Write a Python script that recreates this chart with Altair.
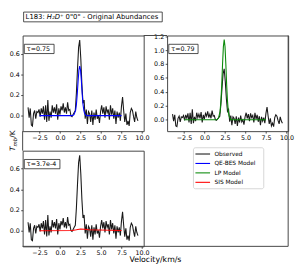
import altair as alt
import pandas as pd

# ---------------- data ----------------
vel_start = -3.9
vel_step = 0.134
obs_T = [0.08, -0.02, 0.07, -0.09, -0.10, 0.02, 0.05, -0.03, 0.04, 0.03,
         0.06, -0.01, 0.07, 0.02, 0.09, -0.04, 0.10, -0.06, 0.15, -0.05,
         0.04, -0.02, 0.10, 0.03, 0.08, 0.02, 0.11, -0.04, 0.07, 0.01,
         0.09, 0.05, 0.12, 0.03, 0.08, 0.02, 0.13, 0.05, 0.06, 0.00,
         -0.01, 0.01, 0.03, 0.05, 0.22, 0.45, 0.66, 0.73, 0.55, 0.30,
         0.12, 0.15, -0.03, 0.06, -0.08, 0.04, 0.02, -0.06, 0.05, -0.09,
         0.03, -0.04, 0.06, -0.03, 0.00, -0.07, 0.04, 0.10, 0.02, 0.08,
         -0.02, 0.09, 0.03, 0.06, -0.04, 0.10, 0.01, 0.07, -0.03, 0.05,
         -0.08, 0.04, -0.02, 0.03, -0.05, 0.09, 0.18, 0.05, -0.06, 0.02,
         -0.09, -0.05, -0.10, 0.03, 0.07, 0.05, -0.01, -0.06, 0.04, -0.02,
         -0.05]
obs_v = [round(vel_start + i * vel_step, 3) for i in range(len(obs_T))]

model_v = [-2.5, 1.5, 1.7, 1.9, 2.0, 2.1, 2.2, 2.3, 2.4, 2.5, 2.6, 2.7, 2.8, 2.9, 3.0, 3.2, 7.5]
qebes_T = [0.0, 0.0, 0.01, 0.05, 0.11, 0.21, 0.33, 0.44, 0.48, 0.44, 0.34, 0.21, 0.11, 0.05, 0.02, 0.0, 0.0]
lp_T = [0.0, 0.0, 0.02, 0.12, 0.27, 0.50, 0.80, 1.05, 1.15, 1.05, 0.80, 0.50, 0.27, 0.12, 0.05, 0.0, 0.0]
sis_v = [-2.5, 1.5, 2.0, 2.5, 3.0, 3.5, 7.5]
sis_T = [-0.003, 0.0, 0.006, 0.014, 0.012, 0.006, 0.0]

series_names = ["Observed", "QE-BES Model", "LP Model", "SIS Model"]
series_colors = ["#1a1a1a", "#0000ff", "#0a8a0a", "#ff0000"]
tau_labels = ["τ=0.75", "τ=0.79", "τ=3.7e-4"]

x_ticks = [-2.5, 0.0, 2.5, 5.0, 7.5, 10.0]
y_ticks_small = [0.0, 0.2, 0.4, 0.6]
y_ticks_big = [0.0, 0.2, 0.4, 0.6, 0.8, 1.0, 1.2]

title_parts = ["L183:", "H₂D⁺", "0\"0\" - Original Abundances"]
x_title = "Velocity/km/s"
y_title_parts = ["T", "mb", "/K"]

# ---------------- tables ----------------
obs_df = pd.DataFrame({"v": obs_v, "T": obs_T, "series": series_names[0]})
qebes_df = pd.DataFrame({"v": model_v, "T": qebes_T, "series": series_names[1]})
lp_df = pd.DataFrame({"v": model_v, "T": lp_T, "series": series_names[2]})
sis_df = pd.DataFrame({"v": sis_v, "T": sis_T, "series": series_names[3]})
legend_df = pd.DataFrame({"series": series_names})
one = pd.DataFrame({"k": [0]})

FONT = "DejaVu Sans"
FRAME = "#444444"
W, H = 124, 98
X_DOM = [-4.56, 10.2]

color_scale = alt.Scale(domain=series_names, range=series_colors)


def panel(model_df, y_dom, y_ticks, tau, box_w):
    xs = alt.X("v:Q", scale=alt.Scale(domain=X_DOM, nice=False, zero=False),
               axis=alt.Axis(values=x_ticks, format=".1f", title=""))
    ys = alt.Y("T:Q", scale=alt.Scale(domain=y_dom, nice=False, zero=False),
               axis=alt.Axis(values=y_ticks, format=".1f", title=""))
    col = alt.Color("series:N", scale=color_scale)
    obs = alt.Chart(obs_df).mark_line(strokeWidth=1.1).encode(x=xs, y=ys, color=col)
    mod = alt.Chart(model_df).mark_line(strokeWidth=1.1).encode(x=xs, y=ys, color=col)
    tdf = pd.DataFrame({"label": [tau]})
    box = alt.Chart(tdf).mark_rect(fill="white", stroke="#222222", strokeWidth=0.8).encode(
        x=alt.value(1.7), x2=alt.value(1.7 + box_w), y=alt.value(9), y2=alt.value(18.5))
    txt = alt.Chart(tdf).mark_text(align="left", baseline="middle", font=FONT,
                                   fontSize=6.5, color="black").encode(
        x=alt.value(4.3), y=alt.value(13.9), text="label:N")
    return [obs, mod, box, txt]


# top-left
tl_layers = panel(qebes_df, [-0.15, 0.775], y_ticks_small, tau_labels[0], 30.5)
tbox = alt.Chart(one).mark_rect(fill="white", stroke="#222222", strokeWidth=0.8).encode(
    x=alt.value(1), x2=alt.value(143), y=alt.value(-24), y2=alt.value(-14))
t1 = alt.Chart(one).mark_text(align="left", baseline="middle", font=FONT, fontSize=7,
                              color="black", text=title_parts[0]).encode(
    x=alt.value(3), y=alt.value(-18.8))
t2 = alt.Chart(one).mark_text(align="left", baseline="middle", font=FONT, fontSize=7,
                              fontStyle="italic", color="black", text=title_parts[1]).encode(
    x=alt.value(24.8), y=alt.value(-18.8))
t3 = alt.Chart(one).mark_text(align="left", baseline="middle", font=FONT, fontSize=7,
                              color="black", text=title_parts[2]).encode(
    x=alt.value(44), y=alt.value(-18.8))
TL = alt.layer(*tl_layers, tbox, t1, t2, t3).properties(width=W, height=H)

# top-right
tr_layers = panel(lp_df, [-0.165, 1.21], y_ticks_big, tau_labels[1], 30)
gap_top = alt.Chart(one).mark_rule(color=FRAME, strokeWidth=1).encode(
    x=alt.value(-24), x2=alt.value(0), y=alt.value(0))
TR = alt.layer(*tr_layers, gap_top).properties(width=W, height=H)

# bottom-left
bl_layers = panel(sis_df, [-0.155, 0.775], y_ticks_small, tau_labels[2], 36.5)
gap_left = alt.Chart(one).mark_rule(color=FRAME, strokeWidth=1).encode(
    x=alt.value(0), y=alt.value(-20), y2=alt.value(0))
xt = alt.Chart(one).mark_text(align="center", baseline="alphabetic", font=FONT, fontSize=8,
                              color="black", text=x_title).encode(
    x=alt.value(136), y=alt.value(114.5))
yt1 = alt.Chart(one).mark_text(align="left", baseline="alphabetic", font=FONT, fontSize=7.5,
                               fontStyle="italic", angle=270, color="black",
                               text=y_title_parts[0]).encode(x=alt.value(-7.4), y=alt.value(0.2))
yt2 = alt.Chart(one).mark_text(align="left", baseline="alphabetic", font=FONT, fontSize=5.5,
                               fontStyle="italic", angle=270, color="black",
                               text=y_title_parts[1]).encode(x=alt.value(-5.6), y=alt.value(-4.4))
yt3 = alt.Chart(one).mark_text(align="left", baseline="alphabetic", font=FONT, fontSize=7.5,
                               angle=270, color="black",
                               text=y_title_parts[2]).encode(x=alt.value(-7.4), y=alt.value(-13.3))
BL = alt.layer(*bl_layers, gap_left, xt, yt1, yt2, yt3).properties(width=W, height=H)

# bottom-right: legend + outer frame
lbox = alt.Chart(one).mark_rect(fill="white", stroke="#cccccc", strokeWidth=0.8,
                                cornerRadius=2).encode(
    x=alt.value(27), x2=alt.value(99), y=alt.value(-3), y2=alt.value(39))
leg_y = alt.Y("series:N", scale=alt.Scale(type="point", domain=series_names,
                                          range=[3.4, 32.4], padding=0), axis=None)
lrule = alt.Chart(legend_df).mark_rule(strokeWidth=1.1).encode(
    x=alt.value(29), x2=alt.value(44), y=leg_y,
    color=alt.Color("series:N", scale=color_scale))
ltext = alt.Chart(legend_df).mark_text(align="left", baseline="middle", font=FONT,
                                       fontSize=6, color="black").encode(
    x=alt.value(48.5), y=leg_y, text="series:N")
frame_r = alt.Chart(one).mark_rule(color=FRAME, strokeWidth=1).encode(
    x=alt.value(124), y=alt.value(-118), y2=alt.value(98))
frame_b = alt.Chart(one).mark_rule(color=FRAME, strokeWidth=1).encode(
    x=alt.value(-148), x2=alt.value(124), y=alt.value(98))
BR = alt.layer(lbox, lrule, ltext, frame_r, frame_b).properties(
    width=W, height=H, view=alt.ViewBackground(stroke="transparent"))

chart = alt.concat(
    TL, TR, BL, BR, columns=2, spacing={"row": 20, "column": 24},
    bounds="flush", padding=0
).resolve_scale(
    x="independent", y="independent"
).configure_view(
    stroke=FRAME, strokeWidth=1
).configure_axis(
    labelFont=FONT, labelFontSize=6.5, labelColor="black", tickColor="#222222",
    tickSize=2, tickWidth=0.8, labelPadding=1.5, domain=False, grid=False,
    labelFlush=False, labelOverlap=False
).configure_legend(disable=True)

chart.save("out.html", embed_options={"renderer": "svg", "actions": False})
